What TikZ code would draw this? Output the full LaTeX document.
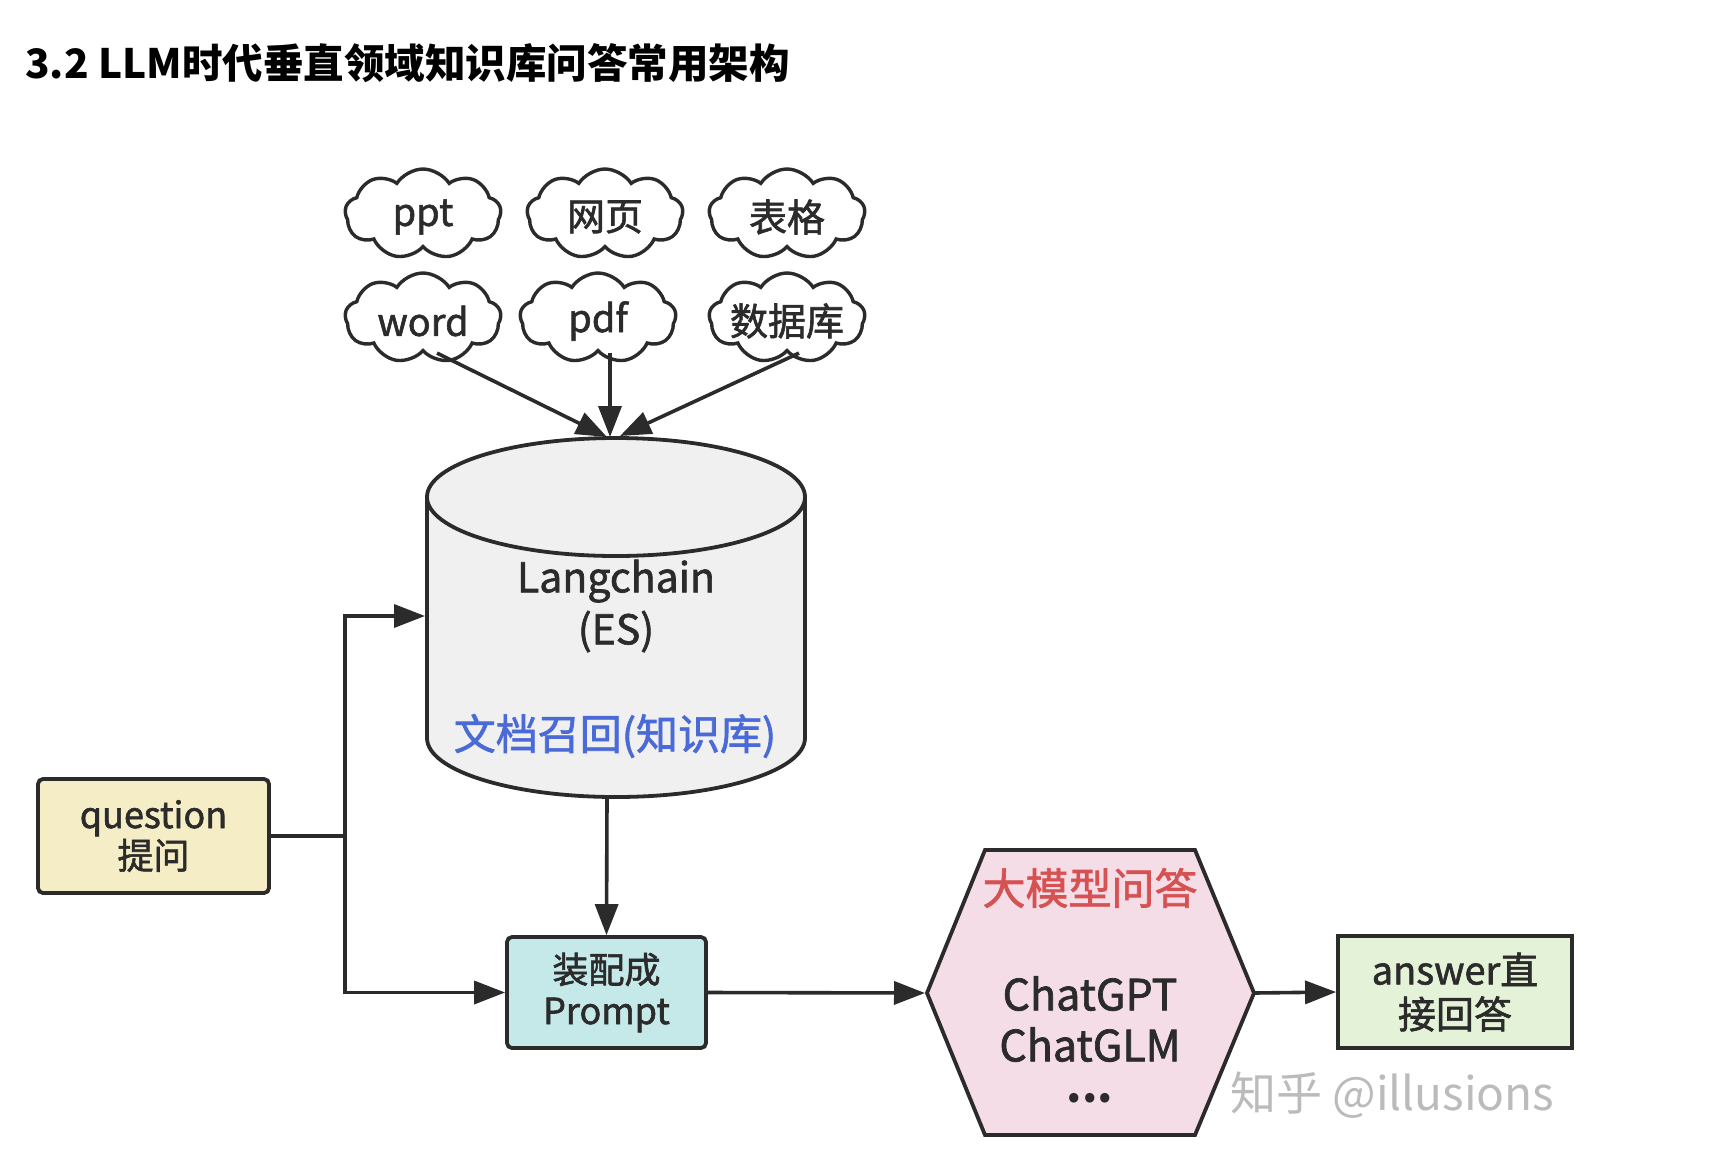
\documentclass[tikz,border=0pt]{standalone}
\usepackage{fontspec}
\setmainfont{Noto Sans CJK SC}
\newfontfamily\medfont{Noto Sans CJK SC}[FakeBold=1.6]
\usetikzlibrary{shapes.symbols,arrows.meta}
\definecolor{ink}{HTML}{2B2B2B}
\definecolor{qfill}{HTML}{F4EDC6}
\definecolor{pfill}{HTML}{C5E8E9}
\definecolor{hfill}{HTML}{F5DDE8}
\definecolor{afill}{HTML}{E4F2D8}
\definecolor{cfill}{HTML}{F0F0F0}
\definecolor{bluetxt}{HTML}{4A6AD8}
\definecolor{redtxt}{HTML}{D65252}
\definecolor{wmark}{HTML}{BBBBBB}
\begin{document}
\begin{tikzpicture}[x=1pt,y=1pt,
  line width=3.8pt,
  conn/.style={draw=ink,line width=3.6pt,-{Triangle[length=31pt,width=23pt]}},
  cloudbox/.style={cloud,cloud puffs=9,cloud puff arc=115,cloud ignores aspect,draw=ink,fill=white,line width=3.4pt,minimum width=156pt,minimum height=90pt,inner sep=0pt},
  cloudtxt/.style={font=\medfont\fontsize{38}{40}\selectfont,text=ink,yshift=-3pt},
  box/.style={draw=ink,line width=3.8pt,rounded corners=5pt,align=center,text=ink,font=\medfont\fontsize{36}{41}\selectfont,inner sep=0pt}
]
\useasboundingbox[fill=white] (0,0) rectangle (1735,-1168);
% title
\node[anchor=west,font=\fontsize{40.5}{44}\selectfont\bfseries,text=black] (title) at (20,-63) {3.2 LLM时代垂直领域知识库问答常用架构};
% clouds
\node[cloudbox,label={[cloudtxt]center:ppt}] (ppt) at (423,-214) {};
\node[cloudbox,label={[cloudtxt]center:网页}] (web) at (605,-214) {};
\node[cloudbox,label={[cloudtxt]center:表格}] (tab) at (787,-214) {};
\node[cloudbox,label={[cloudtxt]center:word}] (word) at (423,-318) {};
\node[cloudbox,label={[cloudtxt]center:pdf}] (pdf) at (598,-318) {};
\node[cloudbox,label={[cloudtxt]center:数据库}] (dbs) at (787,-318) {};
% cylinder
\draw[draw=ink,fill=cfill,line width=3.8pt] (427,-497) -- (427,-738)
  arc[start angle=180,end angle=360,x radius=189pt,y radius=59pt] -- (805,-497)
  arc[start angle=0,end angle=180,x radius=189pt,y radius=59pt] -- cycle;
\draw[draw=ink,line width=3.8pt] (427,-497) arc[start angle=180,end angle=360,x radius=189pt,y radius=59pt];
\node[font=\medfont\fontsize{41}{52}\selectfont,text=ink,align=center] (lang) at (616,-606) {Langchain\\(ES)};
\node[font=\medfont\fontsize{42}{44}\selectfont,text=bluetxt] (recall) at (615,-736) {文档召回(知识库)};
\coordinate (dbtopA) at (607,-437);
\coordinate (dbtopB) at (610,-437);
\coordinate (dbtopC) at (620,-436);
\coordinate (dbleft) at (425,-616);
\coordinate (dbbot) at (607,-797);
% boxes
\node[box,fill=qfill,minimum width=231pt,minimum height=114pt] (q) at (153.5,-836) {question\\提问};
\node[box,fill=pfill,minimum width=199pt,minimum height=111pt] (p) at (606.5,-992.5) {装配成\\Prompt};
\node[box,fill=afill,rounded corners=0pt,minimum width=234pt,minimum height=112pt,font=\medfont\fontsize{38}{44}\selectfont] (ans) at (1455,-992) {answer直\\接回答};
% hexagon
\draw[draw=ink,fill=hfill,line width=3.8pt] (927,-993) -- (985,-850) -- (1195,-850) -- (1254,-993) -- (1195,-1135) -- (985,-1135) -- cycle;
\coordinate (hexL) at (925,-993);
\coordinate (hexR) at (1254,-993);
\node[font=\medfont\fontsize{43}{46}\selectfont,text=redtxt] (hexT) at (1090,-888) {大模型问答};
\node[font=\medfont\fontsize{43}{51}\selectfont,text=ink,align=center] (hexM) at (1090,-1019) {ChatGPT\\ChatGLM};
\node[font=\fontsize{44}{46}\selectfont\bfseries,text=ink] (hexD) at (1090,-1098) {...};
% watermark
\node[anchor=west,font=\fontsize{46}{50}\selectfont,text=wmark] (wm) at (1225,-1095) {知乎 @illusions};
% connectors
\draw[conn] ([xshift=14pt]word.south) -- (dbtopA);
\draw[conn] ([xshift=12pt]pdf.south) -- (dbtopB);
\draw[conn] ([xshift=12pt]dbs.south) -- (dbtopC);
\draw[conn] (q.east) -- (345,-836) |- (dbleft);
\draw[conn] (345,-836) |- (p.west);
\draw[conn] (dbbot) -- (p.north);
\draw[conn] (p.east) -- (hexL);
\draw[conn] (hexR) -- (ans.west);
\end{tikzpicture}
\end{document}
